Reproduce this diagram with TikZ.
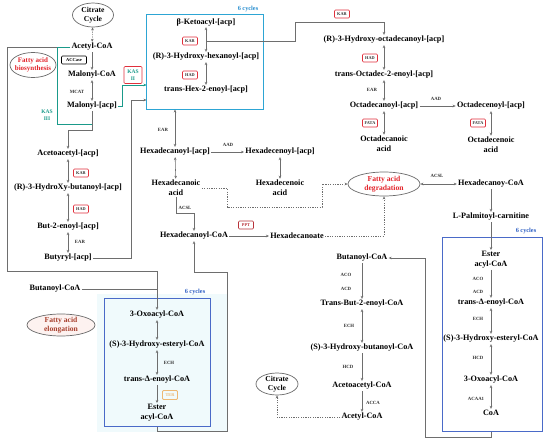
\documentclass[tikz,border=0pt]{standalone}
\usepackage{fontspec}
\setmainfont{Liberation Serif}
\usetikzlibrary{arrows.meta,shapes.geometric,calc}
\definecolor{arrgray}{HTML}{6E6E6E}
\definecolor{enzred}{HTML}{E0303C}
\definecolor{tealc}{HTML}{1A9A8A}
\definecolor{topboxc}{RGB}{45,165,212}
\definecolor{boxblue}{HTML}{4A6AC8}
\definecolor{cycA}{HTML}{2A8FD0}
\definecolor{cycB}{HTML}{2D5FC4}
\definecolor{redtxt}{HTML}{E3242B}
\definecolor{browntxt}{HTML}{A8402E}
\definecolor{pptred}{HTML}{B8333A}
\definecolor{terc}{HTML}{EDB873}
\definecolor{ellgray}{HTML}{6A6A6A}
\definecolor{cyanbg}{HTML}{F0FAFC}
\definecolor{pinkbg}{HTML}{FDF2F0}
\tikzset{
  t/.style={font=\bfseries\fontsize{8.2}{10}\selectfont, inner sep=1.2pt, align=center},
  lab/.style={font=\bfseries\fontsize{4.8}{5.5}\selectfont, inner sep=0.5pt, text=black!80},
  enz/.style={draw=enzred, rounded corners=1pt, line width=0.7pt, font=\bfseries\fontsize{4.3}{5}\selectfont, text=black!80, inner sep=0pt, minimum width=15pt, minimum height=8pt},
  tip/.tip={Stealth[length=3pt,width=2.6pt]},
  arr/.style={draw=arrgray, line width=0.55pt, -tip},
  darr/.style={draw=arrgray, line width=0.55pt, tip-tip},
  ln/.style={draw=arrgray, line width=0.55pt},
  dsh/.style={draw=arrgray, line width=0.55pt, dash pattern=on 1.2pt off 1.2pt},
  tl/.style={draw=tealc, line width=0.75pt},
  ellbox/.style={ellipse, draw=ellgray, line width=0.7pt, fill=white, inner sep=0pt},
  etext/.style={font=\bfseries\fontsize{7.6}{8.8}\selectfont, align=center, inner sep=0pt},
  cyc/.style={font=\bfseries\fontsize{6.3}{7}\selectfont, inner sep=0pt},
  cbox/.style={line width=1pt, inner sep=0pt}
}
\begin{document}
\begin{tikzpicture}[x=1pt,y=-1pt]
\useasboundingbox (0,0) rectangle (550,445);
\fill[white] (0,0) rectangle (550,445);

% backgrounds and boxes
\fill[cyanbg] (97,294) rectangle (227,432);
\node[cbox, minimum width=116pt, minimum height=94pt] (box1) at (205,62) {};
\draw[topboxc, line width=1.1pt] (box1.north west) rectangle (box1.south east);
\node[cbox, draw=boxblue, minimum width=106pt, minimum height=128pt] (box2) at (157,362) {};
\node[cbox, draw=boxblue, minimum width=100pt, minimum height=194pt] (box3) at (492,334) {};
\node[cyc, text=cycA] (cy1) at (248,9) {6 cycles};
\node[cyc, text=cycB] (cy2) at (195,292) {6 cycles};
\node[cyc, text=cycB] (cy3) at (526,231) {6 cycles};

% ellipses
\node[ellbox, minimum width=41pt, minimum height=24pt] (cit1) at (93,15) {};
\node[etext] at (cit1) {Citrate\\Cycle};
\node[ellbox, minimum width=46pt, minimum height=25pt] (bio) at (33,65) {};
\node[etext, text=redtxt, font=\bfseries\fontsize{7}{8.4}\selectfont] at (bio) {Fatty acid\\biosynthesis};
\node[ellbox, minimum width=72pt, minimum height=24pt] (degr) at (384,184) {};
\node[etext, text=redtxt] at (degr) {Fatty acid\\degradation};
\node[ellbox, fill=pinkbg, minimum width=68pt, minimum height=22pt] (elong) at (61,325) {};
\node[etext, text=browntxt] at (elong) {Fatty acid\\elongation};
\node[ellbox, minimum width=42pt, minimum height=22pt] (cit2) at (277,384) {};
\node[etext] at (cit2) {Citrate\\Cycle};

% top-left column
\node[t] (acetyl1) at (92,47) {Acetyl-CoA};
\node[t] (malcoa) at (92,75) {Malonyl-CoA};
\node[t] (malacp) at (92,106) {Malonyl-[acp]};
\node[draw=black, rounded corners=1pt, line width=0.6pt, font=\bfseries\fontsize{4.5}{5}\selectfont, inner sep=0pt, minimum width=25pt, minimum height=8pt] (accase) at (74,60) {ACCase};
\node[lab] (mcat) at (77,92) {MCAT};
\node[font=\bfseries\fontsize{5.5}{6.5}\selectfont, text=tealc, align=center, inner sep=0pt] (kas3) at (47,115) {KAS\\III};
\node[draw=enzred, rounded corners=1pt, line width=0.7pt, font=\bfseries\fontsize{5.5}{6.5}\selectfont, text=tealc, align=center, inner sep=0pt, minimum width=18pt, minimum height=17pt] (kas2) at (133,75) {KAS\\II};

% left column
\node[t] (acetoacp) at (68,154) {Acetoacetyl-[acp]};
\node[enz] (kar1) at (81,173) {KAR};
\node[t] (rhb) at (68,188) {(R)-3-HydroXy-butanoyl-[acp]};
\node[enz] (had1) at (81,209) {HAD};
\node[t] (but2en) at (68,227) {But-2-enoyl-[acp]};
\node[lab] (ear1) at (80,242) {EAR};
\node[t] (butyryl) at (68,258) {Butyryl-[acp]};

% box1
\node[t] (bketo) at (206,22) {β-Ketoacyl-[acp]};
\node[enz] (kar2) at (190,41) {KAR};
\node[t] (hexhyd) at (206,57) {(R)-3-Hydroxy-hexanoyl-[acp]};
\node[enz] (had2) at (190,75) {HAD};
\node[t] (hexen) at (206,90) {trans-Hex-2-enoyl-[acp]};

% top-right
\node[enz] (kar3) at (342,14) {KAR};
\node[t] (octhyd) at (384,40) {(R)-3-Hydroxy-octadecanoyl-[acp]};
\node[enz] (had3) at (370,58) {HAD};
\node[t] (octen) at (384,75) {trans-Octadec-2-enoyl-[acp]};
\node[lab] (ear2) at (372,90) {EAR};
\node[t] (octacp) at (384,106) {Octadecanoyl-[acp]};
\node[lab] (aad1) at (436,99) {AAD};
\node[t] (octenacp) at (491,106) {Octadecenoyl-[acp]};
\node[enz] (fata1) at (370,123) {FATA};
\node[enz] (fata2) at (478,123) {FATA};
\node[t] (octacid) at (384,144) {Octadecanoic\\acid};
\node[t] (octenacid) at (491,145) {Octadecenoic\\acid};

% hexadecanoyl area
\node[lab] (ear3) at (163,130) {EAR};
\node[t] (hexacp) at (175,152) {Hexadecanoyl-[acp]};
\node[lab] (aad2) at (228,145) {AAD};
\node[t] (hexenacp) at (280,152) {Hexadecenoyl-[acp]};
\node[t] (hexacid) at (176,188) {Hexadecanoic\\acid};
\node[t] (hexenacid) at (280,188) {Hexadecenoic\\acid};
\node[lab] (acsl1) at (185,208) {ACSL};
\node[t] (hexcoa) at (194,236) {Hexadecanoyl-CoA};
\node[draw=pptred, rounded corners=1pt, line width=0.7pt, font=\bfseries\fontsize{4.3}{5}\selectfont, text=pptred, inner sep=0pt, minimum width=15pt, minimum height=8pt] (ppt) at (246,225) {PPT};
\node[t] (hexanoate) at (297,236) {Hexadecanoate};
\node[lab] (acsl2) at (437,176) {ACSL};
\node[t] (hexcoa2) at (491,184) {Hexadecanoy-CoA};
\node[t] (palm) at (491,217) {L-Palmitoyl-carnitine};

% right box
\node[t] (ester2) at (491,260) {Ester\\acyl-CoA};
\node[lab] (aco2) at (478,279) {ACO};
\node[lab] (acd2) at (478,292) {ACD};
\node[t] (tdelta2) at (491,303) {trans-Δ-enoyl-CoA};
\node[lab] (ech2) at (478,319) {ECH};
\node[t] (shyd2) at (491,339) {(S)-3-Hydroxy-esteryl-CoA};
\node[lab] (hcd2) at (478,358) {HCD};
\node[t] (oxo2) at (491,380) {3-Oxoacyl-CoA};
\node[lab] (acaa) at (476,399) {ACAA1};
\node[t] (coa2) at (491,413) {CoA};

% middle column
\node[t] (butcoa2) at (362,258) {Butanoyl-CoA};
\node[lab] (aco1) at (346,275) {ACO};
\node[lab] (acd1) at (346,289) {ACD};
\node[t] (tbut) at (362,304) {Trans-But-2-enoyl-CoA};
\node[lab] (ech1) at (349,326) {ECH};
\node[t] (shb) at (362,348) {(S)-3-Hydroxy-butanoyl-CoA};
\node[lab] (hcd1) at (348,367) {HCD};
\node[t] (acacoa) at (362,386) {Acetoacetyl-CoA};
\node[lab] (acca) at (373,403) {ACCA};
\node[t] (acetylcoa2) at (362,417) {Acetyl-CoA};

% left bottom box
\node[t] (butcoa1) at (55,289) {Butanoyl-CoA};
\node[t] (oxo1) at (157,315) {3-Oxoacyl-CoA};
\node[t] (shyd1) at (157,345) {(S)-3-Hydroxy-esteryl-CoA};
\node[lab] (ech3) at (169,363) {ECH};
\node[t] (tdelta1) at (157,380) {trans-Δ-enoyl-CoA};
\node[draw=terc, rounded corners=1pt, line width=0.8pt, font=\bfseries\fontsize{4.3}{5}\selectfont, text=terc, inner sep=0pt, minimum width=15pt, minimum height=9pt] (ter) at (170,395) {TER};
\node[t] (ester1) at (157,413) {Ester\\acyl-CoA};

% coordinates
\coordinate (k85) at (122,85);
\coordinate (k100) at (131,100);
\coordinate (k41) at (206,41);

% connectors top-left
\draw[dsh, tip-tip] (cit1) -- (acetyl1);
\draw[arr] (acetyl1.west) -- (7,47) -- (7,271) -| (oxo1.north);
\draw[tl] (acetyl1.west) -- (57,47) -- (57,124) -- (92,124);
\draw[arr] (acetyl1) -- (malcoa);
\draw[darr] (malcoa) -- (malacp);
\draw[arr] (malacp.south) -- (92,130) -| (acetoacp.north);
\draw[tl, -tip] (malacp.east) -- (122,106) -- (k85) -- (k85 -| box1.west);
\draw[darr] (acetoacp) -- (rhb);
\draw[darr] (rhb) -- (but2en);
\draw[darr] (but2en) -- (butyryl);
\draw[arr] (butyryl.east) -- (131,258) -- (k100) -- (k100 -| box1.west);
\draw[ln] (butcoa1.east) -- (157,289);

% box1
\draw[darr] (bketo) -- (hexhyd);
\draw[darr] (hexhyd) -- (hexen);
\draw[arr] (k41) -- (295,41) -- (295,22) -| (octhyd.north);
\draw[darr] (hexacp.north |- box1.south) -- (hexacp.north);

% top right
\draw[darr] (octhyd) -- (octen);
\draw[darr] (octen) -- (octacp);
\draw[arr] (octacp) -- (octenacp);
\draw[darr] (octacp) -- (octacid);
\draw[darr] (octenacp) -- (octenacid);

% hexadecanoyl
\draw[arr] (hexacp) -- (hexenacp);
\draw[darr] (hexacp) -- (hexacid);
\draw[darr] (hexenacp) -- (hexenacid);
\draw[arr] (hexacid.south) |- (194,213) -- (hexcoa.north);
\draw[arr] (hexcoa) -- (hexanoate);
\draw[dsh, -tip] (hexanoate.east) -| (degr.south);
\draw[dsh, -tip] (hexacid.east) -- (227,188) -- (227,207) -- (322,207) -- (322,184) -- (degr.west);
\draw[darr] (degr) -- (hexcoa2);
\draw[arr] (hexcoa2) -- (palm);
\draw[arr] (palm) -- (ester2);

% right box
\draw[arr] (ester2) -- (tdelta2);
\draw[darr] (tdelta2) -- (shyd2);
\draw[darr] (shyd2) -- (oxo2);
\draw[darr] (oxo2) -- (coa2);
\draw[arr] (coa2.south |- box3.south) -- (491,437) -- (425,437) -- (425,258) -- (butcoa2.east);

% middle
\draw[arr] (butcoa2) -- (tbut);
\draw[darr] (tbut) -- (shb);
\draw[arr] (shb) -- (acacoa);
\draw[arr] (acacoa) -- (acetylcoa2);
\draw[dsh, -tip] (acetylcoa2.west) -| (cit2.south);

% left box
\draw[darr] (oxo1) -- (shyd1);
\draw[darr] (shyd1) -- (tdelta1);
\draw[arr] (tdelta1) -- (ester1);
\draw[arr] (ester1.south |- box2.south) -- (157,431) -- (227,431) -- (227,272) -| (hexcoa.south);
\end{tikzpicture}
\end{document}
